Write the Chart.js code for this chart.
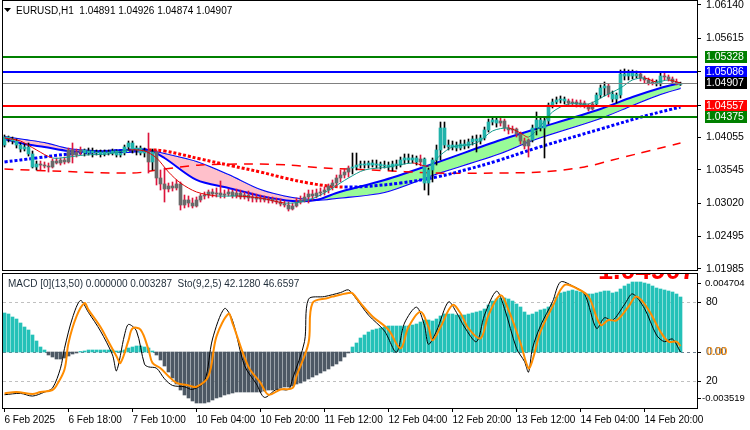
<!DOCTYPE html>
<html>
<head>
<meta charset="utf-8">
<title>EURUSD,H1</title>
<script src="https://cdn.jsdelivr.net/npm/chart.js@4.4.1/dist/chart.umd.min.js"></script>
<style>
  html, body { margin: 0; padding: 0; background: #fff; }
  #wrap { position: relative; width: 750px; height: 430px; overflow: hidden; }
  #mainChart { position: absolute; left: 0; top: 0; width: 750px; height: 282px; }
  #subChart { position: absolute; left: 0; top: 272px; width: 750px; height: 158px; }
</style>
</head>
<body>
<div id="wrap">
  <canvas id="mainChart" width="750" height="282"></canvas>
  <canvas id="subChart" width="750" height="158"></canvas>
</div>
<script>
// ---- data -------------------------------------------------------------
const xTickBars = [0, 16, 32, 48, 64, 80, 96, 112, 128, 144, 160];
const xTickLabels = ['6 Feb 2025', '6 Feb 18:00', '7 Feb 10:00', '10 Feb 04:00', '10 Feb 20:00',
    '11 Feb 12:00', '12 Feb 04:00', '12 Feb 20:00', '13 Feb 12:00', '14 Feb 04:00', '14 Feb 20:00'];

const priceTicks = [1.06140, 1.05615, 1.05090, 1.04565, 1.04055, 1.03545, 1.03020, 1.02495, 1.01985];

// horizontal levels: resistance / support / current price
const levelPrices = [1.05328, 1.05086, 1.04907, 1.04557, 1.04375];

// H1 candles
const opens = [
    1.03936, 1.04062, 1.04031, 1.03999, 1.03936, 1.03873, 1.03905, 1.03795, 1.03590, 1.03637,
    1.03621, 1.03606, 1.03590, 1.03684, 1.03653, 1.03700, 1.03669, 1.03858, 1.03779, 1.03826,
    1.03858, 1.03810, 1.03842, 1.03810, 1.03826, 1.03795, 1.03826, 1.03810, 1.03842, 1.03779,
    1.03810, 1.03905, 1.03968, 1.03858, 1.03889, 1.03810, 1.03842, 1.03669, 1.03826, 1.03417,
    1.03323, 1.03244, 1.03291, 1.03260, 1.03323, 1.02992, 1.03071, 1.03023, 1.02976, 1.03071,
    1.03134, 1.03149, 1.03197, 1.03165, 1.03181, 1.03149, 1.03165, 1.03197, 1.03134, 1.03181,
    1.03118, 1.03149, 1.03102, 1.03118, 1.03086, 1.03102, 1.03071, 1.03086, 1.03055, 1.03039,
    1.03008, 1.02992, 1.02929, 1.02976, 1.03039, 1.03071, 1.03118, 1.03165, 1.03134, 1.03181,
    1.03197, 1.03228, 1.03291, 1.03338, 1.03417, 1.03464, 1.03511, 1.03574, 1.03590, 1.03621,
    1.03637, 1.03621, 1.03653, 1.03621, 1.03637, 1.03606, 1.03621, 1.03590, 1.03637, 1.03621,
    1.03700, 1.03732, 1.03700, 1.03732, 1.03669, 1.03716, 1.03338, 1.03543, 1.03700, 1.03858,
    1.04204, 1.03936, 1.03905, 1.03936, 1.03889, 1.03952, 1.03921, 1.03984, 1.04031, 1.03999,
    1.04047, 1.04173, 1.04298, 1.04330, 1.04282, 1.04314, 1.04204, 1.04173, 1.04188, 1.04110,
    1.03999, 1.03921, 1.04015, 1.04204, 1.04330, 1.04204, 1.04314, 1.04566, 1.04613, 1.04645,
    1.04660, 1.04629, 1.04597, 1.04613, 1.04582, 1.04597, 1.04550, 1.04503, 1.04582, 1.04723,
    1.04834, 1.04865, 1.04739, 1.04660, 1.04723, 1.05054, 1.05022, 1.05070, 1.05022, 1.05054,
    1.04991, 1.04960, 1.04912, 1.04928, 1.04897, 1.05022, 1.05007, 1.04975, 1.04928, 1.04891
];
const highs = [
    1.04094, 1.04078, 1.04062, 1.04031, 1.03968, 1.03952, 1.03968, 1.03842, 1.03684, 1.03684,
    1.03669, 1.03653, 1.03716, 1.03732, 1.03732, 1.03747, 1.03889, 1.03968, 1.03873, 1.03905,
    1.03873, 1.03889, 1.03889, 1.03858, 1.03858, 1.03858, 1.03858, 1.03873, 1.03858, 1.03842,
    1.03936, 1.03999, 1.03999, 1.03921, 1.03921, 1.03889, 1.04125, 1.03873, 1.03858, 1.03543,
    1.03574, 1.03338, 1.03354, 1.03386, 1.03354, 1.03149, 1.03134, 1.03102, 1.03118, 1.03165,
    1.03197, 1.03228, 1.03244, 1.03260, 1.03370, 1.03228, 1.03244, 1.03228, 1.03244, 1.03228,
    1.03197, 1.03212, 1.03181, 1.03165, 1.03149, 1.03134, 1.03118, 1.03118, 1.03102, 1.03086,
    1.03055, 1.03039, 1.03023, 1.03102, 1.03134, 1.03181, 1.03228, 1.03228, 1.03244, 1.03260,
    1.03275, 1.03323, 1.03386, 1.03464, 1.03543, 1.03558, 1.03606, 1.03810, 1.03810, 1.03684,
    1.03684, 1.03684, 1.03700, 1.03700, 1.03669, 1.03684, 1.03669, 1.03684, 1.03700, 1.03747,
    1.03795, 1.03795, 1.03779, 1.03763, 1.03779, 1.03732, 1.03574, 1.03732, 1.03936, 1.04298,
    1.04298, 1.04015, 1.03999, 1.03984, 1.04015, 1.04015, 1.04031, 1.04078, 1.04094, 1.04094,
    1.04219, 1.04345, 1.04361, 1.04361, 1.04377, 1.04345, 1.04251, 1.04235, 1.04204, 1.04141,
    1.04047, 1.04031, 1.04251, 1.04456, 1.04377, 1.04361, 1.04597, 1.04660, 1.04692, 1.04708,
    1.04692, 1.04660, 1.04660, 1.04645, 1.04645, 1.04629, 1.04582, 1.04613, 1.04755, 1.04881,
    1.04928, 1.04897, 1.04786, 1.04755, 1.05117, 1.05133, 1.05117, 1.05117, 1.05101, 1.05085,
    1.05022, 1.04991, 1.04975, 1.04960, 1.05070, 1.05070, 1.05038, 1.05007, 1.04975, 1.04926
];
const lows = [
    1.03905, 1.03984, 1.03952, 1.03889, 1.03826, 1.03842, 1.03763, 1.03574, 1.03543, 1.03543,
    1.03574, 1.03511, 1.03574, 1.03637, 1.03621, 1.03637, 1.03653, 1.03653, 1.03747, 1.03779,
    1.03763, 1.03779, 1.03747, 1.03779, 1.03747, 1.03763, 1.03779, 1.03779, 1.03747, 1.03747,
    1.03779, 1.03858, 1.03810, 1.03779, 1.03779, 1.03747, 1.03495, 1.03543, 1.03307, 1.03228,
    1.03039, 1.03197, 1.03212, 1.03228, 1.02913, 1.02945, 1.02960, 1.02945, 1.02960, 1.03039,
    1.03086, 1.03102, 1.03118, 1.03118, 1.03102, 1.03102, 1.03134, 1.03102, 1.03102, 1.03086,
    1.03086, 1.03055, 1.03039, 1.03039, 1.03039, 1.03039, 1.03023, 1.03023, 1.03008, 1.02976,
    1.02960, 1.02897, 1.02913, 1.02960, 1.03008, 1.03039, 1.03023, 1.03071, 1.03102, 1.03134,
    1.03149, 1.03181, 1.03228, 1.03291, 1.03354, 1.03417, 1.03432, 1.03480, 1.03543, 1.03574,
    1.03574, 1.03574, 1.03590, 1.03574, 1.03558, 1.03574, 1.03543, 1.03527, 1.03558, 1.03590,
    1.03637, 1.03653, 1.03653, 1.03621, 1.03606, 1.03228, 1.03149, 1.03354, 1.03621, 1.03700,
    1.03889, 1.03858, 1.03858, 1.03842, 1.03858, 1.03873, 1.03889, 1.03936, 1.03826, 1.03952,
    1.04015, 1.04141, 1.04251, 1.04219, 1.04235, 1.04157, 1.04110, 1.04125, 1.04062, 1.03952,
    1.03873, 1.03747, 1.03984, 1.04094, 1.04157, 1.03732, 1.04267, 1.04519, 1.04582, 1.04597,
    1.04582, 1.04550, 1.04566, 1.04534, 1.04534, 1.04519, 1.04471, 1.04487, 1.04550, 1.04676,
    1.04708, 1.04692, 1.04613, 1.04597, 1.04676, 1.04960, 1.04960, 1.04975, 1.04991, 1.04944,
    1.04912, 1.04881, 1.04881, 1.04865, 1.04865, 1.04960, 1.04944, 1.04912, 1.04881, 1.04874
];
const closes = [
    1.04062, 1.04031, 1.03999, 1.03936, 1.03873, 1.03905, 1.03795, 1.03590, 1.03637, 1.03621,
    1.03606, 1.03590, 1.03684, 1.03653, 1.03700, 1.03669, 1.03858, 1.03779, 1.03826, 1.03858,
    1.03810, 1.03842, 1.03810, 1.03826, 1.03795, 1.03826, 1.03810, 1.03842, 1.03779, 1.03810,
    1.03905, 1.03968, 1.03858, 1.03889, 1.03810, 1.03842, 1.03669, 1.03826, 1.03417, 1.03323,
    1.03244, 1.03291, 1.03260, 1.03323, 1.02992, 1.03071, 1.03023, 1.02976, 1.03071, 1.03134,
    1.03149, 1.03197, 1.03165, 1.03181, 1.03149, 1.03165, 1.03197, 1.03134, 1.03181, 1.03118,
    1.03149, 1.03102, 1.03118, 1.03086, 1.03102, 1.03071, 1.03086, 1.03055, 1.03039, 1.03008,
    1.02992, 1.02929, 1.02976, 1.03039, 1.03071, 1.03118, 1.03165, 1.03134, 1.03181, 1.03197,
    1.03228, 1.03291, 1.03338, 1.03417, 1.03464, 1.03511, 1.03574, 1.03590, 1.03621, 1.03637,
    1.03621, 1.03653, 1.03621, 1.03637, 1.03606, 1.03621, 1.03590, 1.03637, 1.03621, 1.03700,
    1.03732, 1.03700, 1.03732, 1.03669, 1.03716, 1.03338, 1.03543, 1.03700, 1.03858, 1.04204,
    1.03936, 1.03905, 1.03936, 1.03889, 1.03952, 1.03921, 1.03984, 1.04031, 1.03999, 1.04047,
    1.04173, 1.04298, 1.04330, 1.04282, 1.04314, 1.04204, 1.04173, 1.04188, 1.04110, 1.03999,
    1.03921, 1.04015, 1.04204, 1.04330, 1.04204, 1.04314, 1.04566, 1.04613, 1.04645, 1.04660,
    1.04629, 1.04597, 1.04613, 1.04582, 1.04597, 1.04550, 1.04503, 1.04582, 1.04723, 1.04834,
    1.04865, 1.04739, 1.04660, 1.04723, 1.05054, 1.05022, 1.05070, 1.05022, 1.05054, 1.04991,
    1.04960, 1.04912, 1.04928, 1.04897, 1.05022, 1.05007, 1.04975, 1.04928, 1.04897, 1.04907
];

// candle colouring from the trend overlay (1 = up / teal, 0 = down / grey)
const trendUp = [
    1, 1, 1, 1, 1, 1, 1, 1, 1, 0,
    0, 0, 0, 0, 0, 0, 0, 0, 0, 0,
    1, 1, 1, 1, 1, 1, 1, 1, 1, 1,
    1, 1, 1, 1, 1, 1, 0, 1, 0, 0,
    0, 0, 0, 0, 0, 0, 0, 0, 0, 0,
    0, 0, 0, 0, 0, 0, 0, 0, 0, 0,
    0, 0, 0, 0, 0, 0, 0, 0, 0, 0,
    0, 0, 0, 0, 0, 0, 0, 0, 0, 0,
    0, 0, 0, 0, 0, 0, 0, 1, 1, 1,
    1, 1, 1, 1, 1, 1, 1, 1, 1, 1,
    1, 1, 1, 1, 0, 1, 1, 1, 1, 1,
    1, 1, 1, 1, 1, 1, 1, 1, 1, 1,
    1, 1, 1, 1, 0, 0, 0, 0, 0, 0,
    0, 0, 1, 1, 1, 1, 1, 1, 1, 1,
    1, 0, 0, 0, 0, 0, 0, 0, 1, 1,
    1, 0, 1, 1, 1, 1, 1, 1, 1, 0,
    0, 0, 0, 1, 1, 0, 0, 0, 0, 1
];

// indicator lines, [bar, value]
const fastMa = [[0, 1.04047], [4, 1.03999], [8, 1.03858], [12, 1.03732], [16, 1.03747], [20, 1.03779],
    [26, 1.03795], [31, 1.03858], [35, 1.03842], [38, 1.03732], [41, 1.03511], [44, 1.03338],
    [48, 1.03197], [53, 1.03134], [58, 1.03134], [64, 1.03102], [70, 1.03023], [74, 1.03039],
    [78, 1.03118], [82, 1.03260], [86, 1.03417], [90, 1.03543], [96, 1.03590], [102, 1.03653],
    [106, 1.03606], [109, 1.03779], [112, 1.03905], [118, 1.03968], [122, 1.04157], [126, 1.04204],
    [129, 1.04125], [131, 1.04062], [134, 1.04235], [137, 1.04456], [141, 1.04582], [146, 1.04582],
    [150, 1.04708], [154, 1.04834], [157, 1.04960], [160, 1.04991], [163, 1.04928], [166, 1.04960],
    [169, 1.04912]];

const bandFast = [[0, 1.04031], [5, 1.03952], [10, 1.03905], [16, 1.03842], [22, 1.03826], [30, 1.03858],
    [36, 1.03858], [40, 1.03732], [48, 1.03386], [56, 1.03260], [64, 1.03134], [72, 1.03055],
    [78, 1.03071], [83, 1.03181], [95, 1.03386], [107, 1.03637], [124, 1.04015], [132, 1.04173],
    [149, 1.04503], [157, 1.04692], [164, 1.04834], [169, 1.04912]];
const bandSlow = [[0, 1.04062], [5, 1.04015], [10, 1.03968], [16, 1.03873], [22, 1.03842], [30, 1.03826],
    [36, 1.03842], [40, 1.03795], [48, 1.03669], [56, 1.03464], [64, 1.03228], [72, 1.03102],
    [78, 1.03071], [83, 1.03102], [95, 1.03197], [107, 1.03464], [124, 1.03810], [132, 1.04015],
    [149, 1.04361], [157, 1.04566], [164, 1.04739], [169, 1.04834]];

const trendMa = [[0, 1.03669], [8, 1.03732], [16, 1.03795], [27, 1.03842], [36, 1.03858], [40, 1.03842],
    [49, 1.03716], [57, 1.03606], [64, 1.03511], [70, 1.03417], [76, 1.03338], [81, 1.03291],
    [85, 1.03275], [90, 1.03283], [99, 1.03338], [108, 1.03432], [116, 1.03558], [123, 1.03684],
    [133, 1.03889], [149, 1.04188], [161, 1.04408], [169, 1.04534]];

const slowMa = [[0, 1.03558], [12, 1.03527], [32, 1.03495], [40, 1.03558], [49, 1.03621], [62, 1.03637],
    [71, 1.03621], [80, 1.03574], [92, 1.03543], [108, 1.03495], [122, 1.03495], [134, 1.03511],
    [145, 1.03590], [152, 1.03700], [158, 1.03795], [164, 1.03889], [169, 1.03968]];

// MACD(13,50) histogram, one per bar
const macdHist = [
    0.00234, 0.00228, 0.00210, 0.00198, 0.00174, 0.00150, 0.00132, 0.00102, 0.00066, 0.00030,
    0.00012, -0.00018, -0.00030, -0.00042, -0.00042, -0.00036, -0.00024, -0.00012, -0.00006, 0.00003,
    0.00006, 0.00012, 0.00012, 0.00012, 0.00012, 0.00012, 0.00012, 0.00012, 0.00006, 0.00006,
    0.00012, 0.00024, 0.00030, 0.00036, 0.00036, 0.00030, 0.00024, 0.00006, -0.00018, -0.00048,
    -0.00084, -0.00120, -0.00156, -0.00192, -0.00228, -0.00258, -0.00276, -0.00294, -0.00306, -0.00306,
    -0.00306, -0.00300, -0.00288, -0.00276, -0.00270, -0.00258, -0.00252, -0.00246, -0.00240, -0.00240,
    -0.00240, -0.00240, -0.00240, -0.00240, -0.00240, -0.00234, -0.00228, -0.00228, -0.00222, -0.00216,
    -0.00210, -0.00210, -0.00204, -0.00192, -0.00186, -0.00174, -0.00162, -0.00150, -0.00138, -0.00126,
    -0.00114, -0.00102, -0.00084, -0.00072, -0.00054, -0.00030, -0.00006, 0.00030, 0.00054, 0.00084,
    0.00102, 0.00120, 0.00132, 0.00138, 0.00144, 0.00150, 0.00156, 0.00156, 0.00156, 0.00156,
    0.00156, 0.00156, 0.00162, 0.00168, 0.00180, 0.00192, 0.00192, 0.00186, 0.00198, 0.00216,
    0.00228, 0.00228, 0.00228, 0.00222, 0.00222, 0.00222, 0.00228, 0.00234, 0.00240, 0.00246,
    0.00258, 0.00282, 0.00306, 0.00318, 0.00324, 0.00324, 0.00318, 0.00306, 0.00288, 0.00270,
    0.00240, 0.00222, 0.00228, 0.00240, 0.00252, 0.00258, 0.00270, 0.00288, 0.00330, 0.00354,
    0.00360, 0.00366, 0.00372, 0.00366, 0.00360, 0.00354, 0.00348, 0.00348, 0.00354, 0.00360,
    0.00366, 0.00366, 0.00354, 0.00360, 0.00378, 0.00396, 0.00408, 0.00420, 0.00420, 0.00420,
    0.00414, 0.00408, 0.00396, 0.00384, 0.00378, 0.00372, 0.00366, 0.00360, 0.00348, 0.00330
];

// Stochastic(9,2,5)
const stoMain = [[0, 10], [4, 11], [7, 9], [10, 12], [12, 15], [14, 30], [15, 45], [17, 68], [19, 81],
    [21, 72], [24, 58], [27, 40], [28, 28], [30, 55], [31, 63], [33, 58], [35, 33], [36, 31], [38, 30],
    [40, 22], [42, 17], [45, 16], [47, 14], [50, 20], [52, 52], [55, 75], [57, 66], [60, 32], [63, 18],
    [65, 8], [68, 14], [71, 14], [72, 22], [75, 50], [76, 82], [80, 84], [84, 87], [86, 89], [88, 82],
    [91, 70], [95, 58], [98, 42], [100, 64], [103, 76], [105, 62], [106, 48], [108, 58], [111, 80],
    [113, 72], [115, 61], [118, 50], [120, 70], [123, 88], [125, 75], [128, 45], [130, 35], [131, 27],
    [132, 45], [134, 62], [137, 80], [139, 95], [142, 92], [145, 86], [148, 60], [150, 68], [152, 66],
    [155, 78], [157, 86], [160, 75], [163, 55], [165, 50], [167, 52], [169, 42.128]];
const stoSignal = [[0, 11], [3, 12], [7, 10.5], [9, 12], [12, 13.6], [13, 17], [15, 29], [16, 49], [18, 69],
    [20, 79], [21, 74], [24, 61], [26, 50], [28, 39], [29, 34], [31, 51], [32, 60], [34, 59], [36, 44],
    [37, 34], [39, 30], [41, 24], [43, 19], [46, 17], [48, 16], [51, 24], [53, 54], [56, 71], [57, 64],
    [61, 31], [64, 19], [66, 10], [69, 14], [72, 15], [73, 24], [76, 49], [77, 79], [81, 83], [82, 84],
    [86, 86.7], [87, 86.5], [89, 79], [92, 69], [96, 59], [99, 45], [101, 61], [104, 72.6], [106, 61],
    [107, 51], [109, 61], [112, 77.6], [114, 71.4], [116, 60], [119, 52.5], [121, 70], [124, 85],
    [126, 74], [129, 49], [131, 30], [132, 36], [134, 57.5], [137, 76.4], [140, 92.7], [143, 90.2],
    [146, 84], [149, 62.6], [151, 66.3], [153, 66], [156, 76.4], [158, 84], [161, 74], [164, 57.5],
    [166, 50], [168, 50], [169, 46.66]];

// ---- styling ----------------------------------------------------------
const FONT = '"Liberation Sans", Arial, sans-serif';
const BULL = '#20b2aa', BEAR = '#696969', BULL_WICK = '#000000', BEAR_WICK = '#dc143c';
const levelColors = ['#008000', '#0000ff', '#808080', '#ff0000', '#008000'];
const levelBoxColors = ['#008000', '#0000ff', '#000000', '#ff0000', '#008000'];
const levelWidths = [2, 2, 1, 2, 2];

Chart.defaults.font.family = FONT;
Chart.defaults.animation = false;

const pts = arr => arr.map(([x, y]) => ({ x, y }));
const upDown = (up, down) => ctx => ctx.p1.parsed.y >= ctx.p0.parsed.y ? up : down;
// keep the plot area exactly where the layout padding puts it
const noScalePadding = s => { s.paddingTop = 0; s.paddingBottom = 0; s.paddingLeft = 0; s.paddingRight = 0; };

// bar i sits at pixel 4.5 + 4 * i
const X_MIN = -0.375, X_MAX = 173.125;

const mainPanel = {
    id: 'mainPanel',
    afterDraw(chart) {
        const { ctx, chartArea: a, scales: { y } } = chart;
        ctx.save();
        levelPrices.forEach((p, k) => {
            const py = Math.round(y.getPixelForValue(p));
            const w = levelWidths[k];
            ctx.fillStyle = levelColors[k];
            ctx.fillRect(a.left, py - Math.floor(w / 2), a.right - a.left, w);
            ctx.fillStyle = levelBoxColors[k];
            ctx.fillRect(a.right + 8, py - 6, 42, 12);
            ctx.fillStyle = '#fff';
            ctx.font = '10.5px ' + FONT;
            ctx.textBaseline = 'middle';
            ctx.fillText(p.toFixed(5), a.right + 9, py + 0.5);
        });
        ctx.strokeStyle = '#000';
        ctx.lineWidth = 1;
        ctx.strokeRect(2.5, 0.5, a.right - 2, a.bottom);
        // header
        ctx.fillStyle = '#000';
        ctx.beginPath();
        ctx.moveTo(4, 8); ctx.lineTo(11, 8); ctx.lineTo(7.5, 12); ctx.closePath();
        ctx.fill();
        ctx.font = '10px ' + FONT;
        ctx.textBaseline = 'middle';
        ctx.fillText('EURUSD,H1  1.04891 1.04926 1.04874 1.04907', 16, 11);
        ctx.restore();
    }
};

const subPanel = {
    id: 'subPanel',
    beforeDatasetsDraw(chart) {
        const { ctx, chartArea: a, scales: { yS, yM } } = chart;
        ctx.save();
        ctx.lineWidth = 1;
        ctx.setLineDash([3, 3]);
        const hline = (py, color) => {
            ctx.strokeStyle = color;
            ctx.beginPath();
            ctx.moveTo(a.left, Math.round(py) + 0.5);
            ctx.lineTo(a.right, Math.round(py) + 0.5);
            ctx.stroke();
        };
        hline(yS.getPixelForValue(80), '#c0c0c0');
        hline(yS.getPixelForValue(20), '#c0c0c0');
        hline(yM.getPixelForValue(0), '#708090');
        ctx.restore();
    },
    afterDraw(chart) {
        const { ctx, chartArea: a, scales: { yS, yM } } = chart;
        ctx.save();
        ctx.strokeStyle = '#000';
        ctx.lineWidth = 1;
        ctx.strokeRect(2.5, 1.5, a.right - 2, a.bottom - 1);

        // big price text, mostly hidden above the window
        ctx.save();
        ctx.beginPath();
        ctx.rect(0, 2, 750, 30);
        ctx.clip();
        ctx.fillStyle = '#ff0000';
        ctx.font = 'bold 27px ' + FONT;
        ctx.textBaseline = 'alphabetic';
        ctx.fillText('1.04907', 598, 6.5);
        ctx.restore();

        ctx.font = '10px ' + FONT;
        ctx.textBaseline = 'middle';
        ctx.fillStyle = '#1e2b38';
        ctx.fillText('MACD [0](13,50) 0.000000 0.003287  Sto(9,2,5) 42.1280 46.6597', 8, 12);

        const labels = [
            [a.top + 9, '0.004704', 8],
            [yS.getPixelForValue(80), '80', 9],
            [yS.getPixelForValue(20), '20', 9],
            [a.bottom - 10, '-0.003519', 5]
        ];
        ctx.fillStyle = '#000';
        labels.forEach(([py, text, dx]) => {
            ctx.font = (text.length > 6 ? '9.5px ' : '10.5px ') + FONT;
            ctx.fillText(text, a.right + dx, py);
            ctx.fillRect(a.right, Math.round(py), 4, 1);
        });
        const zy = yM.getPixelForValue(0);
        ctx.font = '10.5px ' + FONT;
        ctx.fillStyle = '#4d5864';
        ctx.fillText('0.00', a.right + 9, zy);
        ctx.fillStyle = '#ff8c00';
        ctx.fillText('0.00', a.right + 10, zy);
        ctx.fillStyle = '#000';
        ctx.fillRect(a.right, Math.round(zy), 4, 1);
        ctx.restore();
    }
};

// ---- price window -----------------------------------------------------
new Chart(document.getElementById('mainChart'), {
    type: 'bar',
    data: {
        datasets: [{
            type: 'line',
            data: pts(bandFast),
            borderColor: '#0000ff',
            borderWidth: 2,
            pointRadius: 0,
            tension: 0.3,
            fill: { target: 1, above: '#98fb98', below: '#ffc0cb' },
            order: 6
        }, {
            type: 'line',
            data: pts(bandSlow),
            borderColor: '#0000ff',
            borderWidth: 2,
            pointRadius: 0,
            tension: 0.3,
            fill: false,
            order: 6
        }, {
            type: 'line',
            data: pts(slowMa),
            borderColor: '#ff0000',
            borderWidth: 1.5,
            borderDash: [9, 7],
            pointRadius: 0,
            tension: 0.3,
            order: 5
        }, {
            type: 'line',
            data: pts(trendMa),
            borderColor: '#0000ff',
            borderWidth: 3,
            borderDash: [3, 2],
            borderCapStyle: 'butt',
            pointRadius: 0,
            tension: 0.4,
            segment: { borderColor: upDown('#0000ff', '#ff0000') },
            order: 4
        }, {
            data: highs.map((h, i) => ({ x: i, y: [lows[i], h] })),
            backgroundColor: ctx => trendUp[ctx.dataIndex] ? BULL_WICK : BEAR_WICK,
            barThickness: 1,
            grouped: false,
            order: 3
        }, {
            data: opens.map((o, i) => ({ x: i, y: [o, closes[i]] })),
            backgroundColor: ctx => trendUp[ctx.dataIndex] ? BULL : BEAR,
            barThickness: 3,
            minBarLength: 1,
            grouped: false,
            order: 2
        }, {
            type: 'line',
            data: pts(fastMa),
            borderColor: '#119b8c',
            borderWidth: 1,
            pointRadius: 0,
            tension: 0.3,
            segment: { borderColor: upDown('#119b8c', '#e00000') },
            order: 1
        }]
    },
    options: {
        responsive: false,
        devicePixelRatio: 1,
        layout: { padding: { left: 3, top: 2, right: 0, bottom: 12 } },
        plugins: { legend: { display: false }, tooltip: { enabled: false } },
        scales: {
            x: { type: 'linear', display: false, offset: false, min: X_MIN, max: X_MAX },
            y: {
                position: 'right',
                min: 1.01969,
                max: 1.06187,
                afterFit: s => { s.width = 53; noScalePadding(s); },
                afterBuildTicks: s => { s.ticks = priceTicks.map(v => ({ value: v })); },
                ticks: { callback: v => v.toFixed(5), color: '#000', padding: 5, font: { size: 10.5 } },
                grid: { drawOnChartArea: false, tickLength: 4, color: '#000' },
                border: { display: true, color: '#000' }
            }
        }
    },
    plugins: [mainPanel]
});

// ---- MACD + Stochastic window -----------------------------------------
new Chart(document.getElementById('subChart'), {
    type: 'bar',
    data: {
        datasets: [{
            type: 'line',
            data: pts(stoSignal),
            yAxisID: 'yS',
            borderColor: '#ff8c00',
            borderWidth: 2,
            pointRadius: 0,
            tension: 0.35,
            order: 0
        }, {
            type: 'line',
            data: pts(stoMain),
            yAxisID: 'yS',
            borderColor: '#000000',
            borderWidth: 1,
            pointRadius: 0,
            tension: 0.3,
            order: 1
        }, {
            data: macdHist.map((v, i) => ({ x: i, y: v })),
            yAxisID: 'yM',
            backgroundColor: ctx => macdHist[ctx.dataIndex] >= 0 ? '#24c1b8' : '#4d5864',
            barThickness: 3,
            grouped: false,
            order: 2
        }]
    },
    options: {
        responsive: false,
        devicePixelRatio: 1,
        layout: { padding: { left: 3, top: 2, right: 53, bottom: 0 } },
        plugins: { legend: { display: false }, tooltip: { enabled: false } },
        scales: {
            x: {
                type: 'linear',
                offset: false,
                min: X_MIN,
                max: X_MAX,
                afterFit: s => { s.height = 22; noScalePadding(s); },
                afterBuildTicks: s => { s.ticks = xTickBars.map(v => ({ value: v })); },
                ticks: {
                    callback: (v, i) => xTickLabels[i],
                    align: 'start',
                    autoSkip: false,
                    maxRotation: 0,
                    color: '#000',
                    padding: 2,
                    font: { size: 10 }
                },
                grid: { drawOnChartArea: false, offset: false, tickLength: 4, color: '#000' },
                border: { display: true, color: '#000' }
            },
            yS: { display: false, min: 0, max: 101 },
            yM: { display: false, min: -0.00336, max: 0.00468 }
        }
    },
    plugins: [subPanel]
});
</script>
</body>
</html>
